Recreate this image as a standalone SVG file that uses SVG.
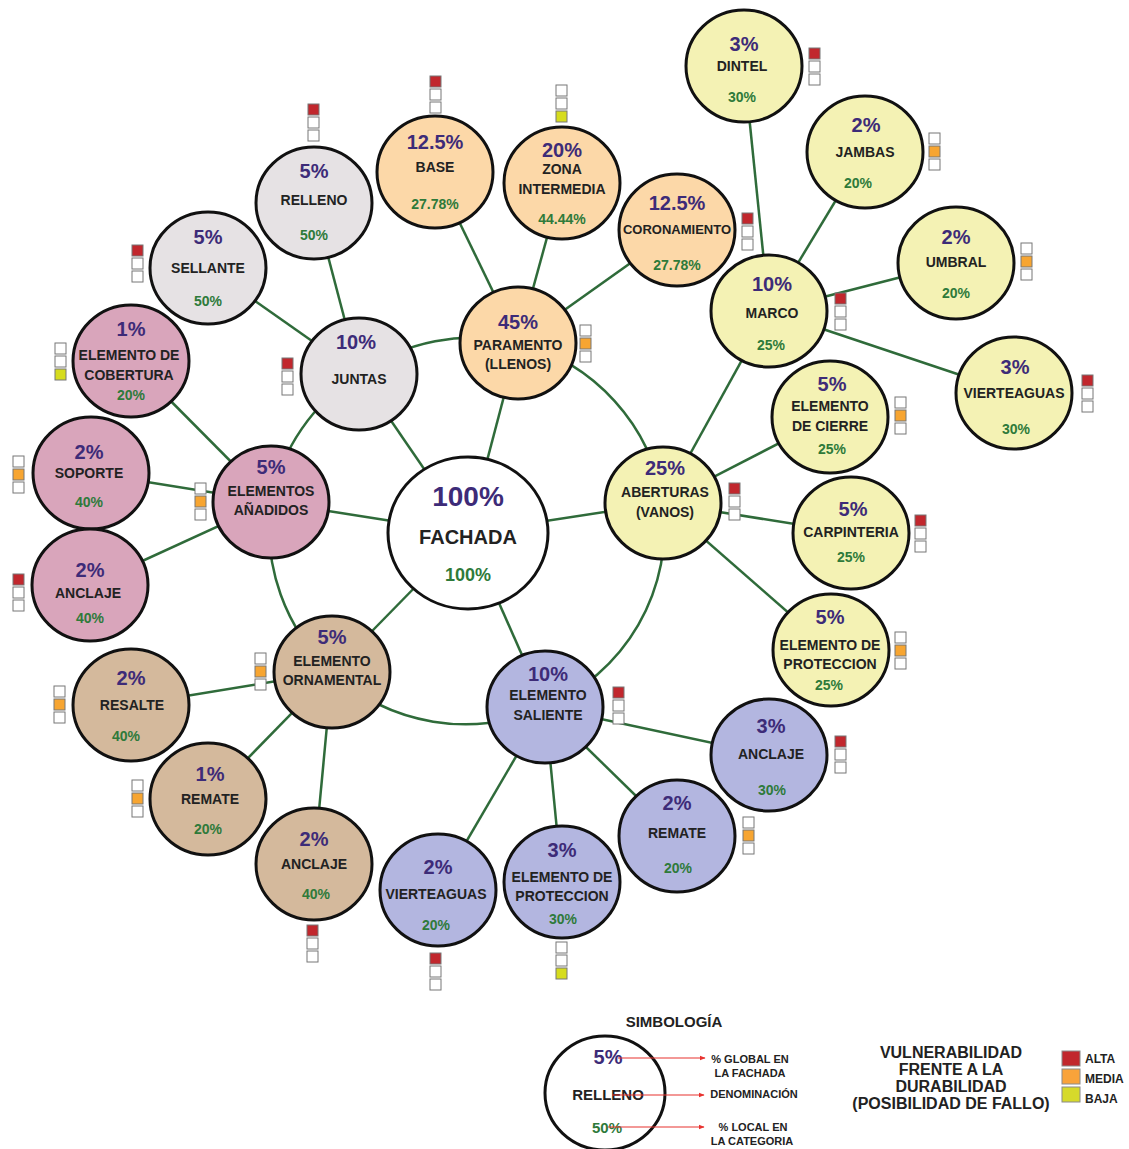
<svg xmlns="http://www.w3.org/2000/svg" width="1129" height="1149" viewBox="0 0 1129 1149">
<defs>
<style>
text{font-family:"Liberation Sans",Arial,sans-serif;font-weight:bold;text-anchor:middle;dominant-baseline:central}
.nd{stroke:#111;stroke-width:3}
.pe{fill:#fcd8a8}.gr{fill:#e6e2e4}.pk{fill:#d9a5bb}.br{fill:#d4b99c}.bl{fill:#b3b6e0}.ye{fill:#f4f2b4}.wh{fill:#fff}
.p{font-size:20px;fill:#3d2b78}
.l{font-size:14px;fill:#222}
.g{font-size:14px;fill:#2e7a3a}
.c{stroke:#2f6b3a;stroke-width:2.5;fill:none}
.sq{fill:#fff;stroke:#777;stroke-width:1}
.R{fill:#c1272d}.O{fill:#f7a531}.Y{fill:#d6dc1e}
.lg{font-size:11px;fill:#222}
.ar{stroke:#e8322f;stroke-width:1.2;fill:none}
</style>
<marker id="ah" viewBox="0 0 10 10" refX="9" refY="5" markerWidth="5" markerHeight="5" orient="auto"><path d="M0,1 L10,5 L0,9 z" fill="#e8322f"/></marker>
<g id="indR"><rect class="sq R" x="0" y="0" width="11" height="11"/><rect class="sq" x="0" y="13" width="11" height="11"/><rect class="sq" x="0" y="26" width="11" height="11"/></g>
<g id="indO"><rect class="sq" x="0" y="0" width="11" height="11"/><rect class="sq O" x="0" y="13" width="11" height="11"/><rect class="sq" x="0" y="26" width="11" height="11"/></g>
<g id="indY"><rect class="sq" x="0" y="0" width="11" height="11"/><rect class="sq" x="0" y="13" width="11" height="11"/><rect class="sq Y" x="0" y="26" width="11" height="11"/></g>
</defs>
<rect width="1129" height="1149" fill="#fff"/>

<g id="connectors">
<path class="c" d="M518,343 A195,195 0 0 1 663,503"/>
<path class="c" d="M663,503 A195,195 0 0 1 545,707"/>
<path class="c" d="M545,707 A195,195 0 0 1 332,672"/>
<path class="c" d="M332,672 A195,195 0 0 1 271,502"/>
<path class="c" d="M271,502 A195,195 0 0 1 359,374"/>
<path class="c" d="M359,374 A195,195 0 0 1 518,343"/>
<line class="c" x1="468" y1="533" x2="518" y2="343"/>
<line class="c" x1="468" y1="533" x2="663" y2="503"/>
<line class="c" x1="468" y1="533" x2="545" y2="707"/>
<line class="c" x1="468" y1="533" x2="332" y2="672"/>
<line class="c" x1="468" y1="533" x2="271" y2="502"/>
<line class="c" x1="468" y1="533" x2="359" y2="374"/>
<line class="c" x1="518" y1="343" x2="435" y2="172"/>
<line class="c" x1="518" y1="343" x2="562" y2="183"/>
<line class="c" x1="518" y1="343" x2="677" y2="230"/>
<line class="c" x1="359" y1="374" x2="314" y2="203"/>
<line class="c" x1="359" y1="374" x2="208" y2="268"/>
<line class="c" x1="271" y1="502" x2="131" y2="361"/>
<line class="c" x1="271" y1="502" x2="91" y2="473"/>
<line class="c" x1="271" y1="502" x2="90" y2="585"/>
<line class="c" x1="332" y1="672" x2="131" y2="705"/>
<line class="c" x1="332" y1="672" x2="208" y2="799"/>
<line class="c" x1="332" y1="672" x2="314" y2="864"/>
<line class="c" x1="545" y1="707" x2="438" y2="890"/>
<line class="c" x1="545" y1="707" x2="562" y2="882"/>
<line class="c" x1="545" y1="707" x2="677" y2="836"/>
<line class="c" x1="545" y1="707" x2="769" y2="755"/>
<line class="c" x1="663" y1="503" x2="769" y2="311"/>
<line class="c" x1="663" y1="503" x2="830" y2="417"/>
<line class="c" x1="663" y1="503" x2="851" y2="533"/>
<line class="c" x1="663" y1="503" x2="831" y2="650"/>
<line class="c" x1="769" y1="311" x2="744" y2="66"/>
<line class="c" x1="769" y1="311" x2="865" y2="152"/>
<line class="c" x1="769" y1="311" x2="956" y2="263"/>
<line class="c" x1="769" y1="311" x2="1014" y2="393"/>
</g>

<g id="fachada"><ellipse class="nd wh" cx="468" cy="533" rx="80" ry="76"/>
<text x="468" y="496" style="font-size:28px;fill:#3d2b78">100%</text>
<text x="468" y="537" style="font-size:20px;fill:#222">FACHADA</text>
<text x="468" y="575" style="font-size:18px;fill:#2e7a3a">100%</text></g>

<g id="paramento"><ellipse class="nd pe" cx="518" cy="343" rx="58" ry="56"/>
<text class="p" x="518" y="322">45%</text><text class="l" x="518" y="345">PARAMENTO</text><text class="l" x="518" y="364">(LLENOS)</text>
<use href="#indO" x="580" y="325"/></g>

<g id="base"><ellipse class="nd pe" cx="435" cy="172" rx="58" ry="56"/>
<text class="p" x="435" y="142">12.5%</text><text class="l" x="435" y="167">BASE</text><text class="g" x="435" y="204">27.78%</text>
<use href="#indR" x="430" y="76"/></g>

<g id="zona-intermedia"><ellipse class="nd pe" cx="562" cy="183" rx="58" ry="56"/>
<text class="p" x="562" y="150">20%</text><text class="l" x="562" y="169">ZONA</text><text class="l" x="562" y="189">INTERMEDIA</text><text class="g" x="562" y="219">44.44%</text>
<use href="#indY" x="556" y="85"/></g>

<g id="coronamiento"><ellipse class="nd pe" cx="677" cy="230" rx="58" ry="56"/>
<text class="p" x="677" y="203">12.5%</text><text class="l" x="677" y="229" style="font-size:13px">CORONAMIENTO</text><text class="g" x="677" y="265">27.78%</text>
<use href="#indR" x="742" y="213"/></g>

<g id="juntas"><ellipse class="nd gr" cx="359" cy="374" rx="58" ry="56"/>
<text class="p" x="356" y="342">10%</text><text class="l" x="359" y="379">JUNTAS</text>
<use href="#indR" x="282" y="358"/></g>

<g id="relleno"><ellipse class="nd gr" cx="314" cy="203" rx="58" ry="56"/>
<text class="p" x="314" y="171">5%</text><text class="l" x="314" y="200">RELLENO</text><text class="g" x="314" y="235">50%</text>
<use href="#indR" x="308" y="104"/></g>

<g id="sellante"><ellipse class="nd gr" cx="208" cy="268" rx="58" ry="56"/>
<text class="p" x="208" y="237">5%</text><text class="l" x="208" y="268">SELLANTE</text><text class="g" x="208" y="301">50%</text>
<use href="#indR" x="132" y="245"/></g>

<g id="elementos-anadidos"><ellipse class="nd pk" cx="271" cy="502" rx="58" ry="56"/>
<text class="p" x="271" y="467">5%</text><text class="l" x="271" y="491">ELEMENTOS</text><text class="l" x="271" y="510">AÑADIDOS</text>
<use href="#indO" x="195" y="483"/></g>

<g id="elemento-cobertura"><ellipse class="nd pk" cx="131" cy="361" rx="58" ry="56"/>
<text class="p" x="131" y="329">1%</text><text class="l" x="129" y="355">ELEMENTO DE</text><text class="l" x="129" y="375">COBERTURA</text><text class="g" x="131" y="395">20%</text>
<use href="#indY" x="55" y="343"/></g>

<g id="soporte"><ellipse class="nd pk" cx="91" cy="473" rx="58" ry="56"/>
<text class="p" x="89" y="452">2%</text><text class="l" x="89" y="473">SOPORTE</text><text class="g" x="89" y="502">40%</text>
<use href="#indO" x="13" y="456"/></g>

<g id="anclaje-anadidos"><ellipse class="nd pk" cx="90" cy="585" rx="58" ry="56"/>
<text class="p" x="90" y="570">2%</text><text class="l" x="88" y="593">ANCLAJE</text><text class="g" x="90" y="618">40%</text>
<use href="#indR" x="13" y="574"/></g>

<g id="elemento-ornamental"><ellipse class="nd br" cx="332" cy="672" rx="58" ry="56"/>
<text class="p" x="332" y="637">5%</text><text class="l" x="332" y="661">ELEMENTO</text><text class="l" x="332" y="680">ORNAMENTAL</text>
<use href="#indO" x="255" y="653"/></g>

<g id="resalte"><ellipse class="nd br" cx="131" cy="705" rx="58" ry="56"/>
<text class="p" x="131" y="678">2%</text><text class="l" x="132" y="705">RESALTE</text><text class="g" x="126" y="736">40%</text>
<use href="#indO" x="54" y="686"/></g>

<g id="remate-ornamental"><ellipse class="nd br" cx="208" cy="799" rx="58" ry="56"/>
<text class="p" x="210" y="774">1%</text><text class="l" x="210" y="799">REMATE</text><text class="g" x="208" y="829">20%</text>
<use href="#indO" x="132" y="780"/></g>

<g id="anclaje-ornamental"><ellipse class="nd br" cx="314" cy="864" rx="58" ry="56"/>
<text class="p" x="314" y="839">2%</text><text class="l" x="314" y="864">ANCLAJE</text><text class="g" x="316" y="894">40%</text>
<use href="#indR" x="307" y="925"/></g>

<g id="elemento-saliente"><ellipse class="nd bl" cx="545" cy="707" rx="58" ry="56"/>
<text class="p" x="548" y="674">10%</text><text class="l" x="548" y="695">ELEMENTO</text><text class="l" x="548" y="715">SALIENTE</text>
<use href="#indR" x="613" y="687"/></g>

<g id="vierteaguas-saliente"><ellipse class="nd bl" cx="438" cy="890" rx="58" ry="56"/>
<text class="p" x="438" y="867">2%</text><text class="l" x="436" y="894">VIERTEAGUAS</text><text class="g" x="436" y="925">20%</text>
<use href="#indR" x="430" y="953"/></g>

<g id="proteccion-saliente"><ellipse class="nd bl" cx="562" cy="882" rx="58" ry="56"/>
<text class="p" x="562" y="850">3%</text><text class="l" x="562" y="877">ELEMENTO DE</text><text class="l" x="562" y="896">PROTECCION</text><text class="g" x="563" y="919">30%</text>
<use href="#indY" x="556" y="942"/></g>

<g id="remate-saliente"><ellipse class="nd bl" cx="677" cy="836" rx="58" ry="56"/>
<text class="p" x="677" y="803">2%</text><text class="l" x="677" y="833">REMATE</text><text class="g" x="678" y="868">20%</text>
<use href="#indO" x="743" y="817"/></g>

<g id="anclaje-saliente"><ellipse class="nd bl" cx="769" cy="755" rx="58" ry="56"/>
<text class="p" x="771" y="726">3%</text><text class="l" x="771" y="754">ANCLAJE</text><text class="g" x="772" y="790">30%</text>
<use href="#indR" x="835" y="736"/></g>

<g id="aberturas"><ellipse class="nd ye" cx="663" cy="503" rx="58" ry="56"/>
<text class="p" x="665" y="468">25%</text><text class="l" x="665" y="492">ABERTURAS</text><text class="l" x="665" y="512">(VANOS)</text>
<use href="#indR" x="729" y="483"/></g>

<g id="marco"><ellipse class="nd ye" cx="769" cy="311" rx="58" ry="56"/>
<text class="p" x="772" y="284">10%</text><text class="l" x="772" y="313">MARCO</text><text class="g" x="771" y="345">25%</text>
<use href="#indR" x="835" y="293"/></g>

<g id="dintel"><ellipse class="nd ye" cx="744" cy="66" rx="58" ry="56"/>
<text class="p" x="744" y="44">3%</text><text class="l" x="742" y="66">DINTEL</text><text class="g" x="742" y="97">30%</text>
<use href="#indR" x="809" y="48"/></g>

<g id="jambas"><ellipse class="nd ye" cx="865" cy="152" rx="58" ry="56"/>
<text class="p" x="866" y="125">2%</text><text class="l" x="865" y="152">JAMBAS</text><text class="g" x="858" y="183">20%</text>
<use href="#indO" x="929" y="133"/></g>

<g id="umbral"><ellipse class="nd ye" cx="956" cy="263" rx="58" ry="56"/>
<text class="p" x="956" y="237">2%</text><text class="l" x="956" y="262">UMBRAL</text><text class="g" x="956" y="293">20%</text>
<use href="#indO" x="1021" y="243"/></g>

<g id="vierteaguas-marco"><ellipse class="nd ye" cx="1014" cy="393" rx="58" ry="56"/>
<text class="p" x="1015" y="367">3%</text><text class="l" x="1014" y="393">VIERTEAGUAS</text><text class="g" x="1016" y="429">30%</text>
<use href="#indR" x="1082" y="375"/></g>

<g id="elemento-cierre"><ellipse class="nd ye" cx="830" cy="417" rx="58" ry="56"/>
<text class="p" x="832" y="384">5%</text><text class="l" x="830" y="406">ELEMENTO</text><text class="l" x="830" y="426">DE CIERRE</text><text class="g" x="832" y="449">25%</text>
<use href="#indO" x="895" y="397"/></g>

<g id="carpinteria"><ellipse class="nd ye" cx="851" cy="533" rx="58" ry="56"/>
<text class="p" x="853" y="509">5%</text><text class="l" x="851" y="532">CARPINTERIA</text><text class="g" x="851" y="557">25%</text>
<use href="#indR" x="915" y="515"/></g>

<g id="proteccion-aberturas"><ellipse class="nd ye" cx="831" cy="650" rx="58" ry="56"/>
<text class="p" x="830" y="617">5%</text><text class="l" x="830" y="645">ELEMENTO DE</text><text class="l" x="830" y="664">PROTECCION</text><text class="g" x="829" y="685">25%</text>
<use href="#indO" x="895" y="632"/></g>

<g id="simbologia">
<text x="674" y="1021" style="font-size:15px;fill:#222">SIMBOLOGÍA</text>
<ellipse cx="605" cy="1093" rx="60" ry="57" fill="none" stroke="#111" stroke-width="3"/>
<text x="608" y="1057" style="font-size:20px;fill:#3d2b78">5%</text>
<text x="608" y="1094" style="font-size:15px;fill:#222">RELLENO</text>
<text x="607" y="1127" style="font-size:15px;fill:#2e7a3a">50%</text>
<line class="ar" x1="618" y1="1058" x2="705" y2="1058" marker-end="url(#ah)"/>
<line class="ar" x1="612" y1="1095" x2="704" y2="1095" marker-end="url(#ah)"/>
<line class="ar" x1="608" y1="1127" x2="704" y2="1127" marker-end="url(#ah)"/>
<text class="lg" x="750" y="1059">% GLOBAL EN</text>
<text class="lg" x="750" y="1073">LA FACHADA</text>
<text class="lg" x="754" y="1094">DENOMINACIÓN</text>
<text class="lg" x="753" y="1127">% LOCAL EN</text>
<text class="lg" x="752" y="1141">LA CATEGORIA</text>
</g>

<g id="vulnerabilidad">
<text x="951" y="1052" style="font-size:16px;fill:#222">VULNERABILIDAD</text>
<text x="951" y="1069" style="font-size:16px;fill:#222">FRENTE A LA</text>
<text x="951" y="1086" style="font-size:16px;fill:#222">DURABILIDAD</text>
<text x="951" y="1103" style="font-size:16px;fill:#222">(POSIBILIDAD DE FALLO)</text>
<rect x="1062" y="1051" width="18" height="15" fill="#c1272d" stroke="#8a8a8a" stroke-width="1"/>
<rect x="1062" y="1069" width="18" height="15" fill="#f9a33a" stroke="#8a8a8a" stroke-width="1"/>
<rect x="1062" y="1087" width="18" height="15" fill="#d6da2b" stroke="#8a8a8a" stroke-width="1"/>
<text x="1085" y="1059" style="font-size:12px;fill:#222;text-anchor:start">ALTA</text>
<text x="1085" y="1079" style="font-size:12px;fill:#222;text-anchor:start">MEDIA</text>
<text x="1085" y="1099" style="font-size:12px;fill:#222;text-anchor:start">BAJA</text>
</g>
</svg>
